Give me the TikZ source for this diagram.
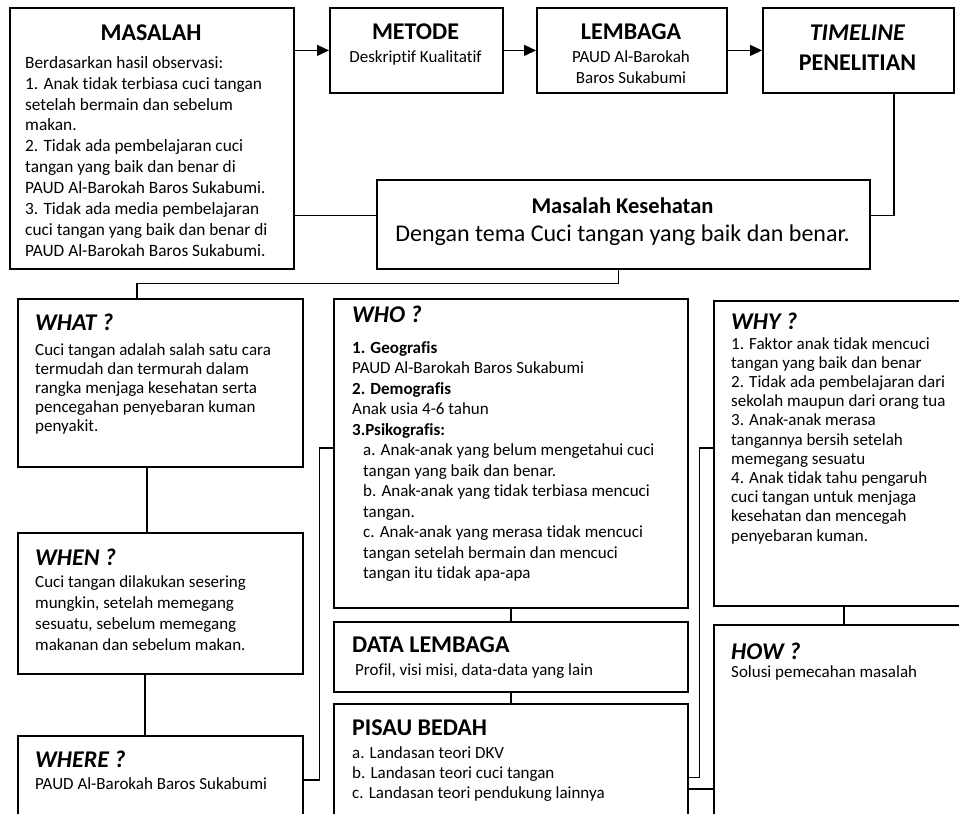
\documentclass[tikz,border=0pt]{standalone}
\usepackage{fontspec}
\setmainfont{Carlito}[Ligatures=CommonOff]
\usetikzlibrary{arrows.meta,calc}
\begin{document}
\begin{tikzpicture}[x=1pt,y=-1pt,
  box/.style={draw, line width=1.8pt, inner sep=0pt, anchor=north west},
  conn/.style={line width=1.3pt},
  arr/.style={line width=1.3pt, -{Triangle[length=12pt,width=11pt]}},
  body/.style={font=\fontsize{17}{20.3}\selectfont, align=left, inner sep=0pt, anchor=north west},
  bodyc/.style={font=\fontsize{17}{21}\selectfont, align=center, inner sep=0pt},
  hd/.style={font=\fontsize{24}{29}\selectfont\bfseries, inner sep=0pt, anchor=base west},
  hdc/.style={font=\fontsize{24}{29}\selectfont\bfseries, inner sep=0pt, anchor=base},
  q/.style={font=\fontsize{24}{29}\selectfont\bfseries\itshape, inner sep=0pt, anchor=base west}]
\useasboundingbox (0,0) rectangle (959,814);
\clip (0,0) rectangle (959,814);
\fill[white] (0,0) rectangle (959,814);

% boxes
\node[box, minimum width=284pt, minimum height=261pt] (masalah) at (9,7) {};
\node[box, minimum width=173pt, minimum height=85pt] (metode) at (329,7) {};
\node[box, minimum width=190pt, minimum height=85pt] (lembaga) at (536,7) {};
\node[box, minimum width=191pt, minimum height=85pt] (timeline) at (762,7) {};
\node[box, line width=2.4pt, minimum width=493pt, minimum height=89pt] (mk) at (376,179) {};
\node[box, minimum width=285pt, minimum height=168pt] (what) at (17,298) {};
\node[box, minimum width=285pt, minimum height=141pt] (when) at (17,532) {};
\node[box, minimum width=285pt, minimum height=115pt] (where) at (17,735) {};
\node[box, minimum width=354pt, minimum height=309pt] (who) at (333,298) {};
\node[box, minimum width=354pt, minimum height=70pt] (data) at (333,621) {};
\node[box, minimum width=354pt, minimum height=147pt] (pisau) at (333,703) {};
\node[box, minimum width=260pt, minimum height=305pt] (why) at (713,300) {};
\node[box, minimum width=260pt, minimum height=226pt] (how) at (713,624) {};

% texts
\node[hdc] (masalahT) at (151,40.7) {MASALAH};
\node[body, font=\fontsize{17.3}{20.9}\selectfont] (masalahB) at (25,56) {Berdasarkan hasil observasi:\\
1. Anak tidak terbiasa cuci tangan\\
setelah bermain dan sebelum\\
makan.\\
2. Tidak ada pembelajaran cuci\\
tangan yang baik dan benar di\\
PAUD Al-Barokah Baros Sukabumi.\\
3. Tidak ada media pembelajaran\\
cuci tangan yang baik dan benar di\\
PAUD Al-Barokah Baros Sukabumi.};

\node[hdc] (metodeT) at (415.5,39.7) {METODE};
\node[bodyc, anchor=base] (metodeB) at (415.5,62) {Deskriptif Kualitatif};

\node[hdc] (lembagaT) at (631,39.7) {LEMBAGA};
\node[bodyc, anchor=north] (lembagaB) at (631,50) {PAUD Al-Barokah\\Baros Sukabumi};

\node[font=\fontsize{24}{30}\selectfont\bfseries, align=center, inner sep=0pt, anchor=north] (timelineT) at (857.5,24.3) {\textit{TIMELINE}\\PENELITIAN};

\node[font=\fontsize{22.5}{26}\selectfont\bfseries, inner sep=0pt, anchor=base] (mkT) at (622.5,213) {Masalah Kesehatan};
\node[font=\fontsize{24}{29}\selectfont, inner sep=0pt, anchor=base] (mkB) at (622.5,241) {Dengan tema Cuci tangan yang baik dan benar.};

\node[q] (whatT) at (35,330.7) {WHAT ?};
\node[body, font=\fontsize{17}{19.2}\selectfont] (whatB) at (35,343) {Cuci tangan adalah salah satu cara\\
termudah dan termurah dalam\\
rangka menjaga kesehatan serta\\
pencegahan penyebaran kuman\\
penyakit.};

\node[q] (whenT) at (35,565.7) {WHEN ?};
\node[body, font=\fontsize{17}{21}\selectfont] (whenB) at (35,575) {Cuci tangan dilakukan sesering\\
mungkin, setelah memegang\\
sesuatu, sebelum memegang\\
makanan dan sebelum makan.};

\node[q] (whereT) at (35,767.7) {WHERE ?};
\node[body] (whereB) at (35,777) {PAUD Al-Barokah Baros Sukabumi};

\node[q] (whoT) at (352,322.7) {WHO ?};
\node[body, font=\fontsize{17}{20.5}\selectfont] (whoB) at (352,341) {\textbf{1. Geografis}\\
PAUD Al-Barokah Baros Sukabumi\\
\textbf{2. Demografis}\\
Anak usia 4-6 tahun\\
\textbf{3.Psikografis:}\\
\hspace*{11pt}a. Anak-anak yang belum mengetahui cuci\\
\hspace*{11pt}tangan yang baik dan benar.\\
\hspace*{11pt}b. Anak-anak yang tidak terbiasa mencuci\\
\hspace*{11pt}tangan.\\
\hspace*{11pt}c. Anak-anak yang merasa tidak mencuci\\
\hspace*{11pt}tangan setelah bermain dan mencuci\\
\hspace*{11pt}tangan itu tidak apa-apa};

\node[hd] (dataT) at (352,652.7) {DATA LEMBAGA};
\node[body] (dataB) at (355,663) {Profil, visi misi, data-data yang lain};

\node[hd] (pisauT) at (352,735.7) {PISAU BEDAH};
\node[body] (pisauB) at (352,746) {a. Landasan teori DKV\\
b. Landasan teori cuci tangan\\
c. Landasan teori pendukung lainnya};

\node[q] (whyT) at (731,329.7) {WHY ?};
\node[body, font=\fontsize{17}{19.2}\selectfont] (whyB) at (731,337) {1. Faktor anak tidak mencuci\\
tangan yang baik dan benar\\
2. Tidak ada pembelajaran dari\\
sekolah maupun dari orang tua\\
3. Anak-anak merasa\\
tangannya bersih setelah\\
memegang sesuatu\\
4. Anak tidak tahu pengaruh\\
cuci tangan untuk menjaga\\
kesehatan dan mencegah\\
penyebaran kuman.};

\node[q] (howT) at (731,659.7) {HOW ?};
\node[body] (howB) at (731,665) {Solusi pemecahan masalah};

% connectors
\draw[arr] (masalah.east |- metode.west) -- (metode.west);
\draw[arr] (metode.east) -- (lembaga.west);
\draw[arr] (lembaga.east) -- (timeline.west);
\draw[conn] ([xshift=35.5pt]timeline.south) |- ([yshift=9.5pt]mk.east);
\draw[conn] ([yshift=9.5pt]mk.west -| masalah.east) -- ([yshift=9.5pt]mk.west);
\draw[conn] ([xshift=-5.5pt]mk.south) -- ++(0,13) -| ([xshift=-23.5pt]what.north);
\draw[conn] ([xshift=-13.5pt]what.south) -- ([xshift=-13.5pt]when.north);
\draw[conn] ([xshift=-15.5pt]when.south) -- ([xshift=-15.5pt]where.north);
\draw[conn] ([yshift=13.5pt]where.east) -- ++(16,0) |- ([yshift=5.5pt]who.west);
\draw[conn] (who.south) -- (data.north);
\draw[conn] (data.south) -- (pisau.north);
\draw[conn] (pisau.east) -- ++(11,0) |- ([yshift=5.5pt]why.west);
\draw[conn] ([yshift=-11.5pt]pisau.east) -- ([yshift=-11.5pt]pisau.east -| how.west);
\draw[conn] (why.south) -- (how.north);
\end{tikzpicture}
\end{document}
